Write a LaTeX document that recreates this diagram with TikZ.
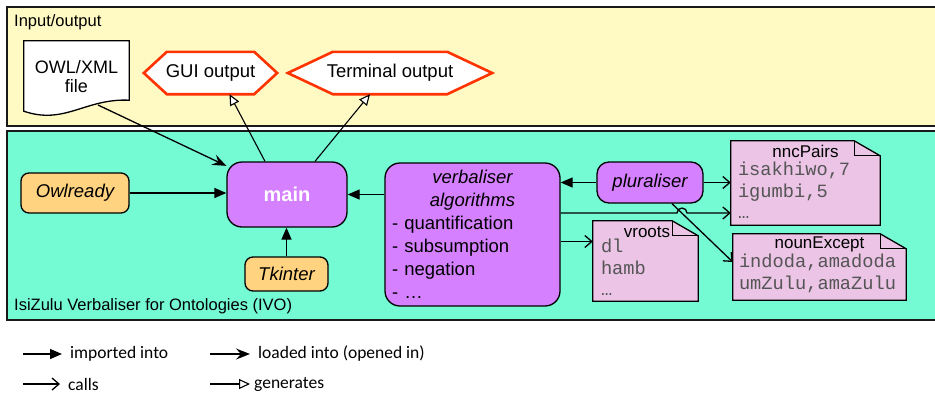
\documentclass[tikz,border=0pt]{standalone}
\usepackage{fontspec}
\setmainfont{Liberation Sans}
\setmonofont{Liberation Mono}
\newfontfamily\legendfont{Carlito}
\usepackage{tikz}
\usetikzlibrary{arrows.meta,positioning}
\pgfdeclarelayer{boxlayer}
\pgfdeclarelayer{shapelayer}
\pgfsetlayers{boxlayer,shapelayer,main}
\setlength{\parindent}{0pt}

\definecolor{iofill}{RGB}{255,250,196}
\definecolor{ivofill}{RGB}{117,251,212}
\definecolor{modfill}{RGB}{213,128,255}
\definecolor{libfill}{RGB}{255,211,127}
\definecolor{docfill}{RGB}{235,196,230}
\definecolor{outred}{RGB}{255,51,0}
\definecolor{monogray}{RGB}{85,85,85}

\newcommand{\nodefont}{\fontsize{18.5}{23}\selectfont}

\tikzset{
  frame/.style={draw=black!90, line width=2.5pt},
  boxtitle/.style={anchor=west, inner sep=2pt, font=\fontsize{16.5}{20}\selectfont},
  box/.style={draw=black, line width=1.3pt, inner sep=0pt, align=center, font=\nodefont},
  lib/.style={box, fill=libfill, rounded corners=8pt, font=\nodefont\itshape},
  module/.style={box, fill=modfill, rounded corners=12pt},
  filenode/.style={inner sep=0pt, align=center, font=\fontsize{18}{19.5}\selectfont},
  outnode/.style={inner sep=0pt, minimum height=42pt, font=\nodefont},
  outline/.style={draw=outred, line width=2.6pt, fill=white, line join=miter},
  docnode/.style={inner sep=0pt},
  docline/.style={draw=black, line width=1.3pt},
  doctitle/.style={inner sep=0pt, font=\fontsize{17}{20}\selectfont},
  doctext/.style={anchor=north west, inner sep=2pt, align=left, text=monogray,
    font=\fontsize{18.7}{21.5}\selectfont\ttfamily},
  legend/.style={inner sep=2pt, font=\fontsize{17.5}{20}\selectfont\legendfont},
  imported/.style={-{Triangle[length=12pt,width=10pt]}, line width=1.3pt},
  loaded/.style={-{Stealth[length=14pt,width=11pt,inset=5pt]}, line width=1.3pt},
  calls/.style={-{Straight Barb[length=7pt,width=12pt]}, line width=1.3pt},
  generates/.style={-{Triangle[open,length=11pt,width=10pt,fill=white]}, line width=1.1pt}
}

\begin{document}
\begin{tikzpicture}[x=1pt, y=-1pt]
  \useasboundingbox (0,0) rectangle (935,400);
  % containers
  \begin{pgfonlayer}{boxlayer}
    \draw[frame, fill=iofill] (7,7) rectangle (938,126);
    \draw[frame, fill=ivofill] (7,131) rectangle (938,320);
  \end{pgfonlayer}
  \node[boxtitle] (iolabel) at (12,22) {Input/output};
  \node[boxtitle] (ivolabel) at (12,306) {IsiZulu Verbaliser for Ontologies (IVO)};
  % input/output
  \node[filenode, minimum width=105pt, minimum height=71pt] (owl) at (76.5,76.5) {OWL/XML\\file};
  \node[outnode, minimum width=133pt] (gui) at (210.5,73) {GUI output};
  \node[outnode, minimum width=204pt] (term) at (390,73) {Terminal output};
  % modules
  \node[module, minimum width=120pt, minimum height=65pt, rounded corners=15pt,
    font=\fontsize{20}{24}\selectfont\bfseries, text=white] (main) at (287,194.5) {main};
  \node[lib, minimum width=108pt, minimum height=40pt] (owlr) at (75,193) {Owlready};
  \node[lib, minimum width=83pt, minimum height=34pt] (tk) at (286.5,274) {Tkinter};
  \node[module, minimum width=175pt, minimum height=143pt, text width=161pt, align=left,
    rounded corners=15pt] (verb) at (472.5,234.5)
    {{\centering\itshape verbaliser\\algorithms\par}- quantification\\- subsumption\\- negation\\- …};
  \node[module, minimum width=106pt, minimum height=41pt, font=\nodefont\itshape] (plur) at (650,182.5) {pluraliser};
  % data files
  \node[docnode, minimum width=149pt, minimum height=84pt] (nnc) at (805.5,183) {};
  \node[docnode, minimum width=173pt, minimum height=66pt] (noun) at (819.5,267) {};
  \node[docnode, minimum width=105pt, minimum height=80pt] (vr) at (645.5,261) {};
  \begin{pgfonlayer}{shapelayer}
    \draw[docline, fill=white] (owl.north west) -- (owl.north east) -- ([yshift=12pt]owl.south east)
      .. controls +(-44,-2) and +(41,14) .. ([yshift=1pt]owl.south west) -- cycle;
    \foreach \h/\d in {gui/23,term/45}
      \draw[outline] (\h.west) -- ([xshift=\d pt]\h.north west) -- ([xshift=-\d pt]\h.north east)
        -- (\h.east) -- ([xshift=-\d pt]\h.south east) -- ([xshift=\d pt]\h.south west) -- cycle;
    \foreach \d in {nnc,noun,vr} {
      \draw[docline, fill=docfill] (\d.north west) -- ([xshift=-26pt]\d.north east)
        -- ([yshift=-15pt]\d.north east) -- (\d.south east) -- (\d.south west) -- cycle;
      \draw[docline] ([xshift=-26pt]\d.north east) |- ([yshift=-15pt]\d.north east);
    }
  \end{pgfonlayer}
  \node[doctitle] (nnc-title) at ([yshift=-10.5pt]nnc.north) {nncPairs};
  \node[doctext] (nnc-text) at ([xshift=5pt,yshift=-19pt]nnc.north west) {isakhiwo,7\\igumbi,5\\…};
  \node[doctitle] (noun-title) at ([yshift=-11pt]noun.north) {nounExcept};
  \node[doctext] (noun-text) at ([xshift=4pt,yshift=-18pt]noun.north west) {indoda,amadoda\\umZulu,amaZulu};
  \node[doctitle] (vr-title) at ([xshift=1.5pt,yshift=-11pt]vr.north) {vroots};
  \node[doctext] (vr-text) at ([xshift=6pt,yshift=-16pt]vr.north west) {dl\\hamb\\…};
  % connectors
  \coordinate (owlfoot) at (98,105);
  \draw[loaded] (owlfoot) -- (main);
  \draw[imported] (owlr) -- (main.west |- owlr);
  \draw[imported] (tk.north) -- (tk.north |- main.south);
  \draw[imported] (verb.west |- main.east) -- (main.east);
  \draw[imported] (plur.west) -- (plur.west -| verb.east);
  \draw[generates] ([xshift=-22pt]main.north) -- ([xshift=19pt]gui.south);
  \draw[generates] ([xshift=28pt]main.north) -- ([xshift=-20pt]term.south);
  \draw[calls] (plur.east) -- (plur.east -| nnc.west);
  \draw[calls] ([yshift=21.5pt]verb.east) -- (677,213) arc[start angle=180, end angle=0, radius=5pt]
    -- ([yshift=-30pt]nnc.west);
  \draw[calls] ([yshift=-7pt]verb.east) -- ([yshift=-7pt]verb.east -| vr.west);
  \draw[calls] ([xshift=22pt]plur.south) -- ([yshift=5pt]noun.west);
  % legend
  \coordinate (imp-a) at (23,354);
  \coordinate (imp-b) at (62,354);
  \coordinate (load-a) at (210,354);
  \coordinate (load-b) at (250,354);
  \coordinate (call-a) at (23,384);
  \coordinate (call-b) at (60,384);
  \coordinate (gen-a) at (210,384);
  \coordinate (gen-b) at (250,384);
  \draw[imported] (imp-a) -- (imp-b);
  \draw[loaded] (load-a) -- (load-b);
  \draw[calls] (call-a) -- (call-b);
  \draw[generates] (gen-a) -- (gen-b);
  \node[legend, right=6pt of imp-b] (imp-l) {imported into};
  \node[legend, right=6pt of load-b] (load-l) {loaded into (opened in)};
  \node[legend, right=6pt of call-b] (call-l) {calls};
  \node[legend, right=2pt of gen-b] (gen-l) {generates};
\end{tikzpicture}
\end{document}
